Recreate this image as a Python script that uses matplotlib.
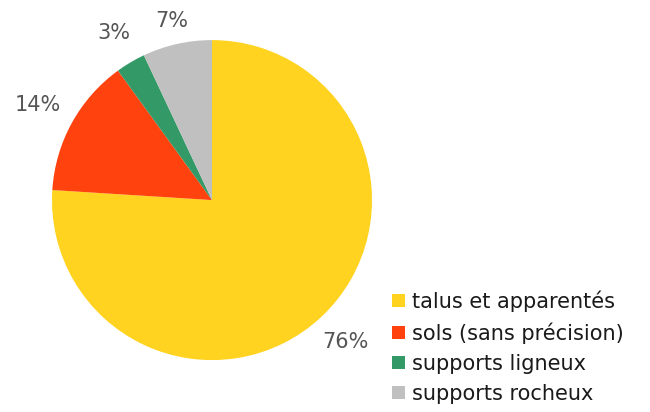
import numpy as np
import matplotlib.pyplot as plt

categories = ['talus et apparentés', 'sols (sans précision)',
              'supports ligneux', 'supports rocheux']
shares = [76, 14, 3, 7]
colors = ['#ffd320', '#ff420e', '#339966', '#c0c0c0']

fig = plt.figure(figsize=(6.5, 4.12), dpi=100)
ax = fig.add_axes([0.08, 0.126, 0.4923, 0.7767])

wedges, _ = ax.pie(shares, colors=colors, startangle=90, counterclock=False)

# percentage labels just outside each slice
label_dist = [1.22, 1.24, 1.21, 1.15]
for w, v, d in zip(wedges, shares, label_dist):
    ang = np.deg2rad((w.theta1 + w.theta2) / 2)
    ax.text(d * np.cos(ang), d * np.sin(ang), f'{v}%', ha='center', va='center',
            fontsize=15, color='#555555')
ax.set_xlim(-1, 1)
ax.set_ylim(-1, 1)
ax.set_aspect('equal')

fig.legend(wedges, categories, loc='upper left', bbox_to_anchor=(0.575, 0.34),
           frameon=False, fontsize=15, handlelength=0.6, handleheight=0.6,
           handletextpad=0.35, labelspacing=0.48, labelcolor='#1a1a1a')

fig.savefig('out.png')
